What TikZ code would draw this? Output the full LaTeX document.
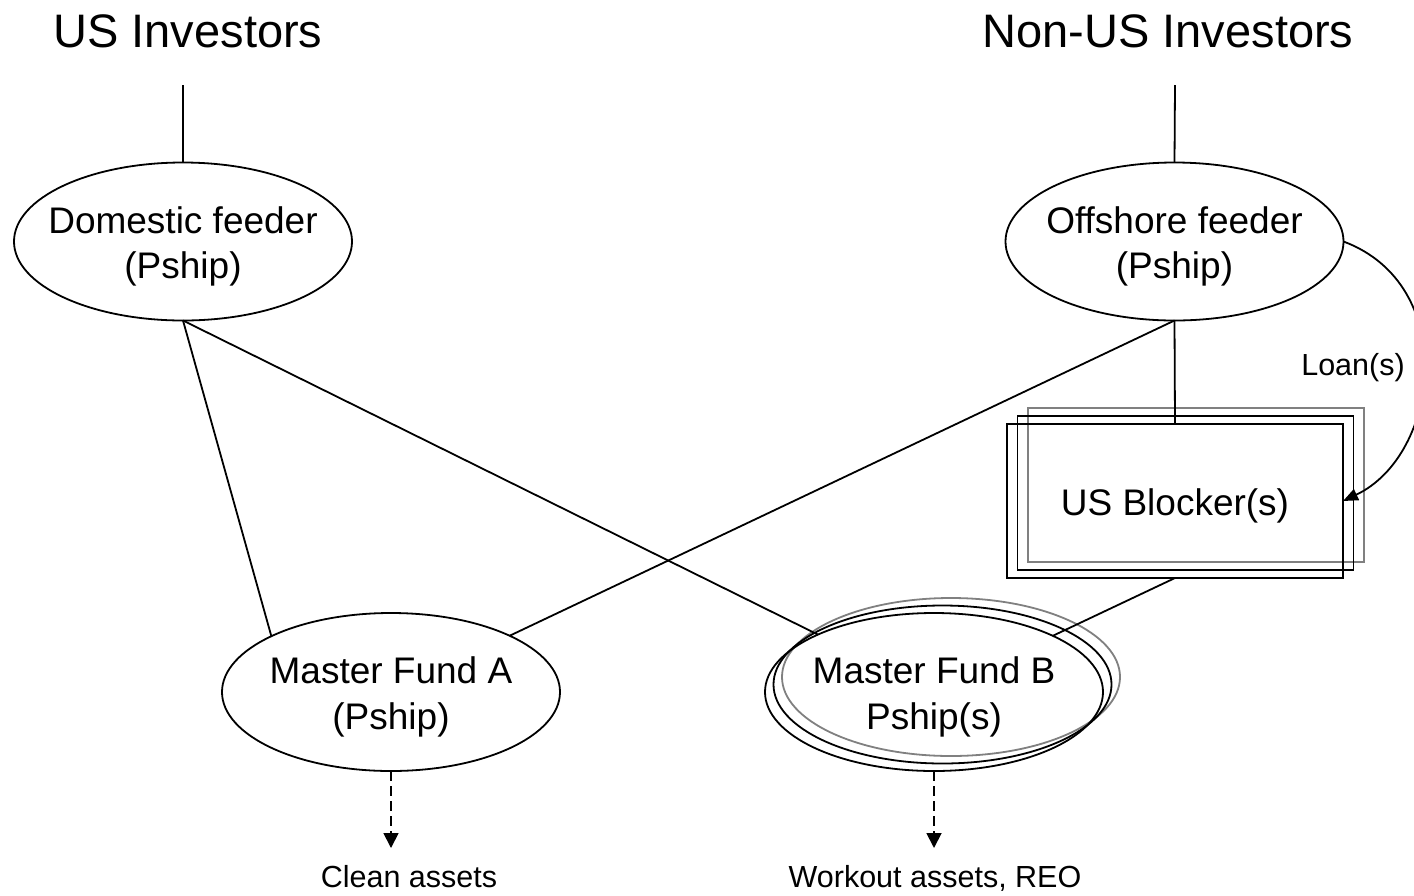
\documentclass[tikz,border=0pt]{standalone}
\usepackage{fontspec}
\setmainfont{Liberation Sans}
\usetikzlibrary{shapes.geometric,arrows.meta}
% strut that gives the first text line a full ascender height
\newcommand{\capstrut}{\rule{0pt}{37pt}}
\begin{document}
\begin{tikzpicture}[x=1pt,y=-1pt,
  line width=1.8pt,
  heading/.style={font=\fontsize{47}{56}\selectfont, anchor=base, inner sep=0pt},
  note/.style={font=\fontsize{30.5}{37}\selectfont, anchor=base, inner sep=0pt},
  entity/.style={ellipse, draw, minimum width=338pt, minimum height=158pt,
    inner xsep=-40pt, inner ysep=0pt, outer sep=0pt, align=center,
    font=\fontsize{37}{45.5}\selectfont},
  blockerbox/.style={rectangle, draw, minimum width=336pt, minimum height=154pt,
    inner sep=0pt, outer sep=0pt, font=\fontsize{37}{44}\selectfont},
  backdrop/.style={draw=black!50},
  holding/.style={dash pattern=on 10pt off 5pt, -{Triangle[length=15pt,width=15pt]}},
  loan/.style={-{Triangle[length=15pt,width=12pt]}}
]
\useasboundingbox (0,0) rectangle (1414,895);
\clip (0,0) rectangle (1414,895);

% investor groups
\node[heading] (usinv) at (188,47) {US Investors};
\node[heading] (nonusinv) at (1168,47) {Non-US Investors};
\coordinate (ustop) at (183,85);
\coordinate (nonustop) at (1175,85);

% feeders
\node[entity] (dom) at (183,241.5) {\capstrut Domestic feeder\\(Pship)};
\node[entity] (off) at (1174.5,241.5) {\capstrut Offshore feeder\\(Pship)};

% blocker stack
\node[blockerbox, backdrop] (blkback2) at (1196,485) {};
\node[blockerbox] (blkback1) at (1185.5,493) {};
\node[blockerbox] (blk) at (1175,501) {\capstrut US Blocker(s)};

% master funds
\node[entity] (mfa) at (391,692) {\capstrut Master Fund A\\(Pship)};
\node[entity, backdrop] (mfbback2) at (951,677) {};
\node[entity] (mfbback1) at (942.5,684.5) {};
\node[entity] (mfb) at (934,692) {\capstrut Master Fund B\\Pship(s)};

% ownership lines
\draw (ustop) -- (dom.north);
\draw (nonustop) -- (off.north);
\draw (dom.south) -- (mfa.155);
\draw (dom.south) -- (mfb);
\draw (off.south) -- (mfa);
\draw (off.south) -- (blk.north);
\draw (blk.south) -- (mfb);

% loans from the offshore feeder to the blockers
\draw[loan] (off.east) .. controls (1460,285) and (1440,455) .. (blk.east);
\node[note] (loanlbl) at (1353,375) {Loan(s)};

% assets held
\coordinate (cleanend) at (391,848);
\coordinate (workoutend) at (934,848);
\draw[holding] (mfa.south) -- (cleanend);
\draw[holding] (mfb.south) -- (workoutend);
\node[note] (clean) at (409,887) {Clean assets};
\node[note] (workout) at (935,887) {Workout assets, REO};
\end{tikzpicture}
\end{document}
